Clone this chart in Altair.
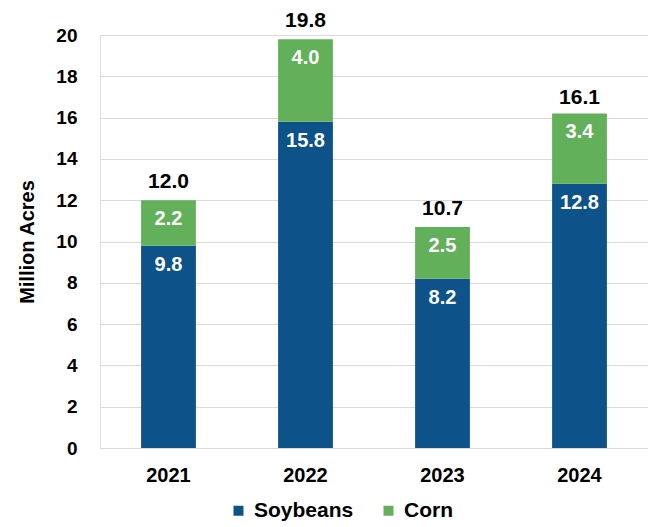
import altair as alt
import pandas as pd

years = ["2021", "2022", "2023", "2024"]
soybeans = [9.8, 15.8, 8.2, 12.8]
corn = [2.2, 4.0, 2.5, 3.4]
totals = [12.0, 19.8, 10.7, 16.1]
crops = ["Soybeans", "Corn"]
colors = ["#0D5289", "#62B05A"]

rows = []
for y, s, c in zip(years, soybeans, corn):
    rows.append({"year": y, "crop": "Soybeans", "value": s, "start": 0, "end": s, "order": 0})
    rows.append({"year": y, "crop": "Corn", "value": c, "start": s, "end": s + c, "order": 1})
df = pd.DataFrame(rows)
tot = pd.DataFrame({"year": years, "total": totals})

FONT = "Liberation Sans"

x = alt.X("year:N", title=None, sort=years,
          scale=alt.Scale(paddingInner=0.6, paddingOuter=0.3),
          axis=alt.Axis(labelAngle=0, labelFont=FONT, labelFontSize=20, labelFontWeight="bold",
                        labelColor="#000000", domain=False, ticks=False, labelPadding=17))

bars = alt.Chart(df).mark_bar().encode(
    x=x,
    y=alt.Y("start:Q", title="Million Acres", scale=alt.Scale(domain=[0, 20]),
            axis=alt.Axis(values=list(range(0, 21, 2)), labelFont=FONT, labelFontSize=19,
                          labelFontWeight="bold", labelColor="#000000", domain=False, ticks=False,
                          labelPadding=23, titleFont=FONT, titleFontSize=20, titleFontWeight="bold",
                          titleColor="#000000", titlePadding=18, gridColor="#d9d9d9")),
    y2="end:Q",
    color=alt.Color("crop:N", scale=alt.Scale(domain=crops, range=colors),
                    legend=alt.Legend(title=None, orient="none", legendX=128, legendY=465,
                                      direction="horizontal",
                                      symbolType="square", symbolSize=100, symbolStrokeWidth=0,
                                      labelFont=FONT, labelOffset=5,
                                      labelFontSize=21, labelFontWeight="bold", labelColor="#000000",
                                      columnPadding=24)),
    order="order:Q",
)

seg_labels = alt.Chart(df).mark_text(font=FONT, fontSize=20, fontWeight="bold", color="white",
                                     baseline="middle", dy=19).encode(
    x=alt.X("year:N", sort=years),
    y=alt.Y("end:Q"),
    text=alt.Text("value:Q", format=".1f"),
)

tot_labels = alt.Chart(tot).mark_text(font=FONT, fontSize=21, fontWeight="bold", color="#000000",
                                      baseline="middle", dy=-18).encode(
    x=alt.X("year:N", sort=years),
    y=alt.Y("total:Q"),
    text=alt.Text("total:Q", format=".1f"),
)

chart = alt.layer(bars, seg_labels, tot_labels).properties(
    width=548, height=413,
    autosize=alt.AutoSizeParams(type="none"),
    padding={"left": 92, "top": 27, "right": 0, "bottom": 77},
).configure_view(stroke=None).configure(background="white")

chart.save("out.html", embed_options={"renderer": "svg", "actions": False})
